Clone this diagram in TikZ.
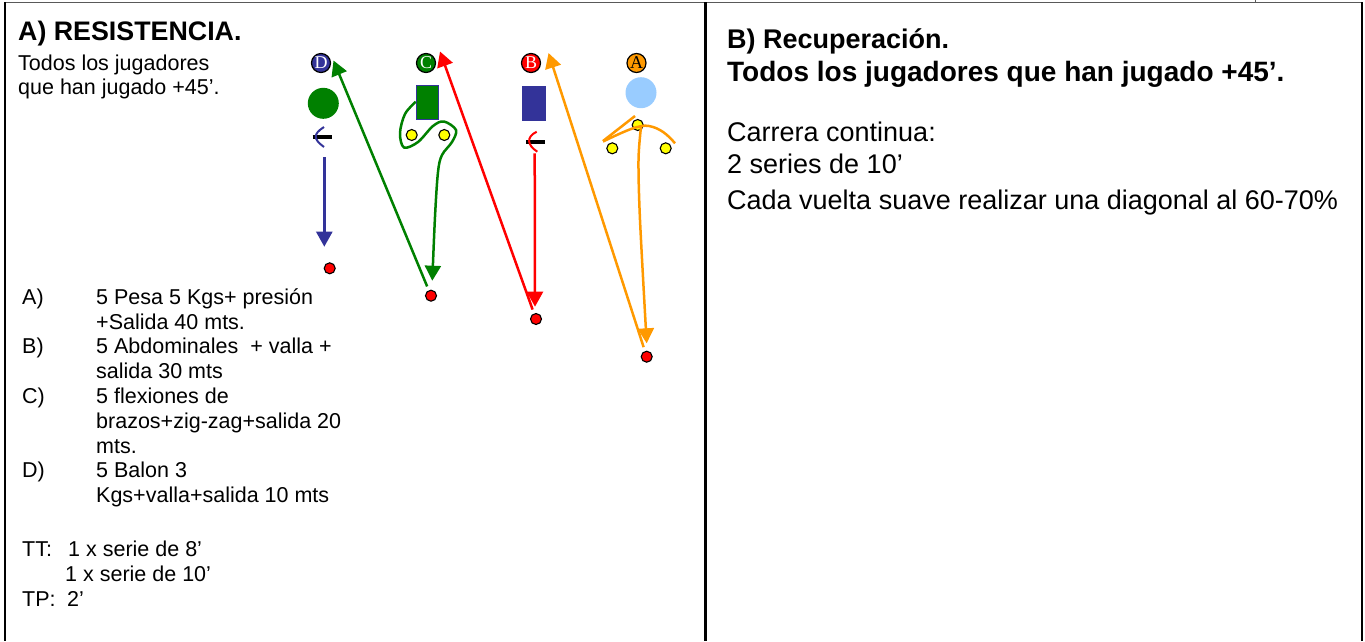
\documentclass[tikz,border=0pt]{standalone}
\usepackage{fontspec}
\setmainfont{Liberation Sans}
\newfontfamily\lettserif{Liberation Serif}
\usetikzlibrary{arrows.meta}
\definecolor{dblue}{HTML}{333399}
\definecolor{dgreen}{HTML}{008000}
\definecolor{pred}{HTML}{FF0000}
\definecolor{porange}{HTML}{FF9900}
\definecolor{pyellow}{HTML}{FFFF00}
\definecolor{lblue}{HTML}{99CCFF}
\tikzset{
  lbl/.style={circle, draw=black, line width=1.2pt, minimum size=19pt, inner sep=0pt, text=white, font=\lettserif\fontsize{18}{18}\selectfont},
  cone/.style={circle, draw=black, line width=1.1pt, fill=pyellow, minimum size=11pt, inner sep=0pt},
  rdot/.style={circle, draw=black, line width=1.1pt, fill=pred, minimum size=11pt, inner sep=0pt},
  run/.style={line width=2.5pt, -{Triangle[width=16pt,length=15pt]}},
  loose/.style={line width=2.5pt},
  txt/.style={anchor=base west, inner sep=0pt, font=\fontsize{21.5}{25}\selectfont},
  btxt/.style={anchor=base west, inner sep=0pt, font=\bfseries\fontsize{27}{32}\selectfont},
  rtxt/.style={anchor=base west, inner sep=0pt, font=\fontsize{27}{32}\selectfont},
}
\begin{document}
\begin{tikzpicture}[x=1pt,y=-1pt]
\useasboundingbox (0,0) rectangle (1365,641);
% frame
\draw[line width=1pt, draw=black!65] (5,2.5) -- (1362,2.5);
\draw[line width=1pt, draw=black!65] (1255,0) -- (1255,2.5);
\draw[line width=2.6pt] (5,2) -- (5,641);
\draw[line width=3pt] (705,2) -- (705,641);
\draw[line width=2.6pt] (1362,2) -- (1362,641);
% left texts
\node[anchor=base west, inner sep=0pt, font=\bfseries\fontsize{26.8}{30}\selectfont] (ta) at (18,40.5) {A) RESISTENCIA.};
\node[txt] (t1) at (18,70.5) {Todos los jugadores};
\node[txt] (t2) at (18,94) {que han jugado +45’.};
\node[txt] (la) at (22,304.3) {A)};
\node[txt] (la1) at (96,304.3) {5 Pesa 5 Kgs+ presión};
\node[txt] (la2) at (96,329.1) {+Salida 40 mts.};
\node[txt] (lb) at (22,353.9) {B)};
\node[txt] (lb1) at (96,353.9) {5 Abdominales \ + valla +};
\node[txt] (lb2) at (96,378.7) {salida 30 mts};
\node[txt] (lc) at (22,403.5) {C)};
\node[txt] (lc1) at (96,403.5) {5 flexiones de};
\node[txt] (lc2) at (96,428.3) {brazos+zig-zag+salida 20};
\node[txt] (lc3) at (96,453.1) {mts.};
\node[txt] (ld) at (22,477.9) {D)};
\node[txt] (ld1) at (96,477.9) {5 Balon 3};
\node[txt] (ld2) at (96,502.7) {Kgs+valla+salida 10 mts};
\node[txt] (tt) at (22,556) {TT:};
\node[txt] (tt1) at (68,556) {1 x serie de 8’};
\node[txt] (tt2) at (65,581) {1 x serie de 10’};
\node[txt] (tp) at (22,606.5) {TP:};
\node[txt] (tp1) at (67,606.5) {2’};
% right texts
\node[btxt] (rb) at (727,48) {B) Recuperación.};
\node[btxt, font=\bfseries\fontsize{28}{32}\selectfont] (rb2) at (727,81) {Todos los jugadores que han jugado +45’.};
\node[rtxt] (r1) at (727,141) {Carrera continua:};
\node[rtxt] (r2) at (727,173) {2 series de 10’};
\node[rtxt] (r3) at (727,209) {Cada vuelta suave realizar una diagonal al 60-70\%};
% station labels
\node[lbl, fill=dblue] (lD) at (321,63) {D};
\node[lbl, fill=dgreen] (lC) at (426,63) {C};
\node[lbl, fill=pred] (lB) at (531,63) {B};
\node[lbl, fill=porange, text=black] (lA) at (636.5,63) {A};
% players
\node[circle, fill=dgreen, minimum size=31pt, inner sep=0pt] (pD) at (323.3,103.3) {};
\node[rectangle, fill=dgreen, draw=dblue, line width=1pt, minimum width=22pt, minimum height=34pt, inner sep=0pt] (pC) at (427,102.8) {};
\node[rectangle, fill=dblue, minimum width=23.7pt, minimum height=35.3pt, inner sep=0pt] (pB) at (534.2,103.3) {};
\node[circle, fill=lblue, minimum size=31pt, inner sep=0pt] (pA) at (641,92.7) {};
% hurdles
\draw[line width=4pt] (312.7,136.7) -- (332,136.7);
\draw[line width=2pt, dblue] (324,127) .. controls (313,134) and (313,139) .. (324,147);
\draw[line width=4pt] (526,141.7) -- (545,141.7);
\draw[line width=2pt, pred] (536.7,131.7) .. controls (526,137) and (527,145) .. (537.3,151.7);
% cones
\node[cone] (c1) at (411.7,135) {};
\node[cone] (c2) at (444.3,135) {};
\node[cone] (c3) at (637.7,125) {};
\node[cone] (c4) at (612.3,148.3) {};
\node[cone] (c5) at (665.7,148.3) {};
% end dots
\node[rdot] (dD) at (329.7,268.3) {};
\node[rdot] (dC) at (431,295.7) {};
\node[rdot] (dB) at (536,319) {};
\node[rdot] (dA) at (646.7,356.7) {};
% arrow tips
\coordinate (tipD) at (333.5,60.5);
\coordinate (tipC) at (440,51.5);
\coordinate (tipB) at (548.5,53);
% D: vertical run
\coordinate (sD) at (324.3,157);
\coordinate (eD) at (324.3,246.7);
\draw[run, dblue] (sD) -- (eD);
% C: zig-zag run
\draw[run, dgreen] plot[smooth, tension=0.55] coordinates {(415.7,101.7) (405,114) (400,133) (404,147.5) (418,142) (433,126) (444,121.5) (456,130) (452,142) (442,155) (438,172) (435,216.7) (432.3,280.7)};
% B: vertical run
\coordinate (sB) at (534.7,153.3);
\coordinate (eB) at (535,306.7);
\draw[run, pred] (sB) -- (eB);
% A: orange marks and run
\draw[loose, porange] (635,116) -- (603,141);
\draw[loose, porange] (603,141.5) .. controls (625,131) and (640,124) .. (649,126) .. controls (660,128) and (668,135) .. (675,143.3);
\draw[run, porange] plot[smooth, tension=0.5] coordinates {(641,127) (638.5,160) (640,220) (646.7,343.3)};
% return runs
\draw[run, dgreen, shorten <=4pt] (dC) -- (tipD);
\draw[run, pred, shorten <=4pt] (dB) -- (tipC);
\draw[run, porange, shorten <=4pt] (dA) -- (tipB);
\end{tikzpicture}
\end{document}
